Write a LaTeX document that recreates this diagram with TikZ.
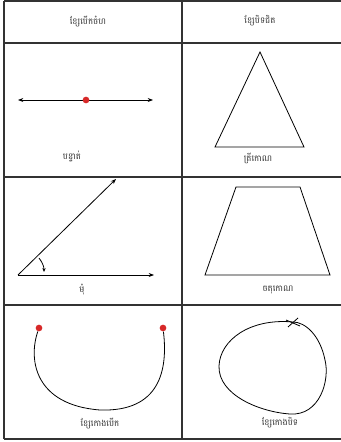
\documentclass[tikz,border=0pt]{standalone}
\usepackage{fontspec}
\newfontfamily\khmer[Script=Khmer]{Battambang}
\usetikzlibrary{arrows.meta}
\definecolor{dotred}{RGB}{215,40,40}
\tikzset{
  grid/.style={line width=1.1pt, draw=black!80},
  lbl/.style={font=\khmer\fontsize{6.5}{7.5}\selectfont, text=black!80, inner sep=1pt},
  fig/.style={line width=0.6pt, black},
  arr/.style={fig, -{Stealth[length=4pt,width=3pt]}},
  pt/.style={circle, fill=dotred, inner sep=0pt, minimum size=5pt}
}
\begin{document}
\begin{tikzpicture}[x=0.75pt,y=-0.75pt]
\useasboundingbox (0,0) rectangle (341,442);
% table
\draw[grid] (4,1) -- (342,1);
\draw[grid] (4,43) -- (342,43);
\draw[grid] (4,177) -- (342,177);
\draw[grid] (4,305) -- (342,305);
\draw[grid] (4,439) -- (342,439);
\draw[grid] (4,1) -- (4,439);
\draw[grid] (182,1) -- (182,439);
% headers
\node[lbl] (h1) at (88,21) {ខ្សែបើកចំហ};
\node[lbl] (h2) at (260,21) {ខ្សែបិទជិត};
% row 1 left: line
\coordinate (l1a) at (18,100);
\coordinate (l1b) at (153,100);
\draw[fig, {Stealth[length=4pt,width=3pt]}-{Stealth[length=4pt,width=3pt]}] (l1a) -- (l1b);
\node[pt] (d1) at (86,100) {};
\node[lbl] (t1) at (72,156) {បន្ទាត់};
% row 1 right: triangle
\coordinate (ta) at (260,52);
\coordinate (tb) at (215,147);
\coordinate (tc) at (304,147);
\draw[fig, line join=miter] (ta) -- (tb) -- (tc) -- cycle;
\node[lbl] (t2) at (258,158) {ត្រីកោណ};
% row 2 left: angle
\coordinate (o) at (18,275);
\coordinate (ox) at (154,275);
\coordinate (oy) at (116,179);
\draw[arr] (o) -- (ox);
\draw[arr] (o) -- (oy);
\coordinate (a1) at (39,258);
\coordinate (a2) at (44,272);
\draw[fig, -{Stealth[length=3pt,width=2.5pt]}] (a1) .. controls (42,262) and (44,266) .. (a2);
\node[lbl] (t3) at (82,290) {មុំ};
% row 2 right: trapezoid
\coordinate (za) at (236,187);
\coordinate (zb) at (300,187);
\coordinate (zc) at (330,275);
\coordinate (zd) at (205,275);
\draw[fig] (za) -- (zb) -- (zc) -- (zd) -- cycle;
\node[lbl] (t4) at (278,290) {ចតុកោណ};
% row 3 left: open curve
\node[pt] (c1) at (39,328) {};
\node[pt] (c2) at (163,328) {};
\draw[fig] (c1) .. controls (28,360) and (35,405) .. (100,410)
  .. controls (160,412) and (168,370) .. (c2);
\node[lbl] (t5) at (100,423) {ខ្សែកោងបើក};
% row 3 right: closed curve
\coordinate (k0) at (293,322);
\draw[fig] (k0) .. controls (250,318) and (220,340) .. (219,366)
  .. controls (218,395) and (260,412) .. (290,414)
  .. controls (320,416) and (330,380) .. (325,360)
  .. controls (320,335) and (305,322) .. (k0);
\coordinate (x1) at (286,320);
\coordinate (x2) at (300,326);
\coordinate (x3) at (288,327);
\coordinate (x4) at (298,318);
\draw[fig] (x1) -- (x2);
\draw[fig] (x3) -- (x4);
\node[lbl] (t6) at (280,423) {ខ្សែកោងបិទ};
\end{tikzpicture}
\end{document}
